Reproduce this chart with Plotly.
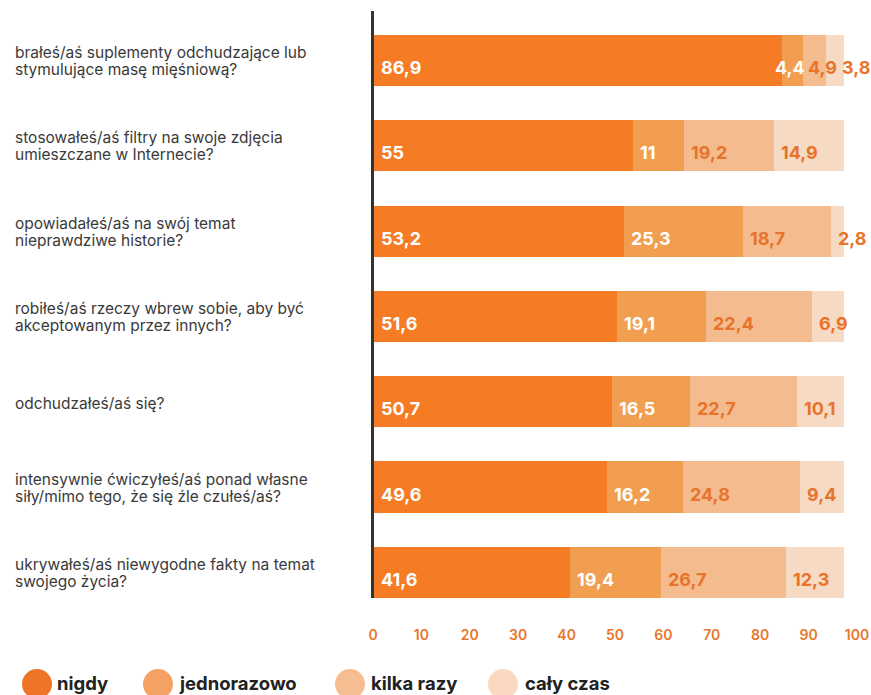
import plotly.graph_objects as go

categories = [
    "brałeś/aś suplementy odchudzające lub<br>stymulujące masę mięśniową?",
    "stosowałeś/aś filtry na swoje zdjęcia<br>umieszczane w Internecie?",
    "opowiadałeś/aś na swój temat<br>nieprawdziwe historie?",
    "robiłeś/aś rzeczy wbrew sobie, aby być<br>akceptowanym przez innych?",
    "odchudzałeś/aś się?",
    "intensywnie ćwiczyłeś/aś ponad własne<br>siły/mimo tego, że się źle czułeś/aś?",
    "ukrywałeś/aś niewygodne fakty na temat<br>swojego życia?",
]
series_names = ["nigdy", "jednorazowo", "kilka razy", "cały czas"]
nigdy = [86.9, 55, 53.2, 51.6, 50.7, 49.6, 41.6]
jednorazowo = [4.4, 11, 25.3, 19.1, 16.5, 16.2, 19.4]
kilka_razy = [4.9, 19.2, 18.7, 22.4, 22.7, 24.8, 26.7]
caly_czas = [3.8, 14.9, 2.8, 6.9, 10.1, 9.4, 12.3]
x_ticks = [0, 10, 20, 30, 40, 50, 60, 70, 80, 90, 100]

series_values = [nigdy, jednorazowo, kilka_razy, caly_czas]

# styling
W, H = 871, 695
L, R, T, B = 373, 14, 11, 97
PW = W - L - R
PH = H - T - B
bar_colors = ["#F57B24", "#F19E50", "#F4BB8E", "#F7DAC3"]
legend_colors = ["#EE7428", "#F3A264", "#F7BD92", "#FAD9C0"]
label_colors = ["#FFFFFF", "#FFFFFF", "#E8732A", "#E8732A"]
ORANGE = "#E8762B"
FONT = "Inter"

def px_to_paper_x(px):
    return (px - L) / PW

def px_to_paper_y(py):
    return (H - B - py) / PH

fig = go.Figure()
for name, vals, col in zip(series_names, series_values, bar_colors):
    fig.add_trace(go.Bar(
        y=categories, x=vals, orientation="h", name=name,
        marker=dict(color=col, line=dict(width=0)),
        width=0.6, showlegend=False, hoverinfo="x+name",
        xaxis="x", yaxis="y",
    ))

# invisible trace so the tick axis is drawn
fig.add_trace(go.Scatter(x=[0], y=[categories[0]], xaxis="x2", yaxis="y",
                         mode="markers", marker=dict(opacity=0),
                         showlegend=False, hoverinfo="skip"))

# per-label pixel nudges (row, series) -> xshift
nudges = {(0, 1): -6, (0, 2): 6, (0, 3): 17}

annotations = []
for i, cat in enumerate(categories):
    base = 0.0
    for s, vals in enumerate(series_values):
        v = vals[i]
        txt = (f"{v:g}").replace(".", ",")
        annotations.append(dict(
            x=base, y=cat, xref="x", yref="y", text=txt, showarrow=False,
            xanchor="left", yanchor="middle",
            xshift=nudges.get((i, s), 8) - 3, yshift=-7,
            font=dict(family=FONT, size=18, color=label_colors[s], weight=700),
        ))
        base += v
    lines = cat.split("<br>")
    if len(lines) == 2:
        shifts = [8, -9]
    else:
        shifts = [-2]
    for line, ys in zip(lines, shifts):
        annotations.append(dict(
            x=px_to_paper_x(13), y=cat, xref="paper", yref="y", text=line,
            showarrow=False, xanchor="left", yanchor="middle", align="left",
            yshift=ys,
            font=dict(family=FONT, size=15.5, color="#3a3a3a"),
        ))

# manual legend
legend_circle_px = [37, 158, 350, 503]
legend_text_px = [55, 177, 369, 523]
legend_y_px = 683
shapes = []
for name, col, cx, tx in zip(series_names, legend_colors, legend_circle_px, legend_text_px):
    shapes.append(dict(
        type="circle", xref="paper", yref="paper",
        xsizemode="pixel", ysizemode="pixel",
        xanchor=px_to_paper_x(cx), yanchor=px_to_paper_y(legend_y_px + 1),
        x0=-15, x1=15, y0=-15, y1=15,
        fillcolor=col, line=dict(width=0),
    ))
    annotations.append(dict(
        x=px_to_paper_x(tx), y=px_to_paper_y(legend_y_px), xref="paper", yref="paper",
        text=name, showarrow=False, xanchor="left", yanchor="middle",
        font=dict(family=FONT, size=18.5, color="#222222", weight=700),
    ))

fig.update_layout(
    width=W, height=H,
    margin=dict(l=L, r=R, t=T, b=B, pad=0, autoexpand=False),
    paper_bgcolor="white", plot_bgcolor="rgba(0,0,0,0)",
    barmode="stack", bargap=0.4,
    showlegend=False,
    xaxis=dict(domain=[px_to_paper_x(374), px_to_paper_x(844)], range=[0, 100],
               visible=False, fixedrange=True, anchor="y", automargin=False),
    xaxis2=dict(domain=[0, 1], range=[0, 100], anchor="y", automargin=False,
                tickvals=x_ticks, ticktext=[str(t) for t in x_ticks],
                showgrid=False, zeroline=False, showline=False,
                ticks="outside", ticklen=24, tickcolor="rgba(0,0,0,0)",
                tickfont=dict(family=FONT, size=14, color=ORANGE, weight=600)),
    yaxis=dict(anchor="x", type="category", range=[6.3, -0.58], automargin=False,
               showline=True, linecolor="#333333", linewidth=2.5,
               showticklabels=False, showgrid=False, zeroline=False, ticks=""),
    annotations=annotations,
    shapes=shapes,
)

fig.write_html("out.html", config={"displayModeBar": False},
               post_script="document.body.style.margin='0';")
